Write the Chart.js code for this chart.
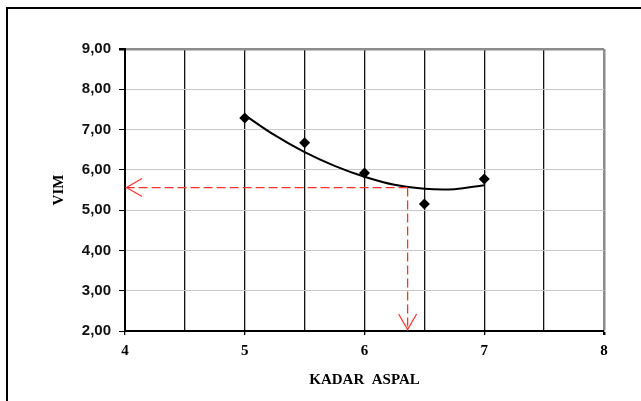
<!DOCTYPE html>
<html>
<head>
<meta charset="utf-8">
<script src="https://cdn.jsdelivr.net/npm/chart.js@4/dist/chart.umd.min.js"></script>
<style>
  html, body { margin: 0; padding: 0; background: #fff; overflow: hidden; }
  #wrap { position: relative; width: 641px; height: 401px; }
  #frame { position: absolute; left: 6px; top: 7px; width: 700px; height: 500px;
           border-left: 2px solid #000; border-top: 2px solid #000; pointer-events: none; }
  #chart { position: absolute; left: 0; top: 0; }
</style>
</head>
<body>
<div id="wrap">
  <canvas id="chart" width="641" height="401"></canvas>
  <div id="frame"></div>
</div>
<script>
// measured points (kadar aspal vs VIM)
const kadarAspal = [5, 5.5, 6, 6.5, 7];
const vimValues = [7.29, 6.67, 5.92, 5.15, 5.77];

// trend curve
const trendX = [5, 5.25, 5.5, 5.75, 6, 6.25, 6.5, 6.75, 7];
const trendY = [7.36, 6.86, 6.44, 6.10, 5.83, 5.63, 5.53, 5.52, 5.62];

// red guide: from curve to the axes
const guideX = [6.36];
const guideY = [5.56];

const xMin = 4, xMax = 8, yMin = 2, yMax = 9;
const guideRed = '#ff3030';

function toPoints(xs, ys) {
    return xs.map((x, i) => ({ x: x, y: ys[i] }));
}

// open arrowheads at the end of the guide lines
const arrowPlugin = {
    id: 'arrowHeads',
    afterDatasetsDraw(chart) {
        const { ctx, scales: { x, y } } = chart;
        const len = 17, half = 9;
        ctx.save();
        ctx.strokeStyle = guideRed;
        ctx.lineWidth = 1.2;
        ctx.setLineDash([]);
        // left arrow
        const lx = x.getPixelForValue(xMin), ly = y.getPixelForValue(guideY[0]);
        ctx.beginPath();
        ctx.moveTo(lx + len, ly - half);
        ctx.lineTo(lx + 1.5, ly);
        ctx.lineTo(lx + len, ly + half);
        ctx.stroke();
        // down arrow
        const dx = x.getPixelForValue(guideX[0]), dy = y.getPixelForValue(yMin);
        ctx.beginPath();
        ctx.moveTo(dx - half, dy - len);
        ctx.lineTo(dx, dy - 1.5);
        ctx.lineTo(dx + half, dy - len);
        ctx.stroke();
        ctx.restore();
    }
};

new Chart(document.getElementById('chart'), {
    type: 'scatter',
    data: {
        datasets: [
            {
                label: 'guide-h',
                data: [{ x: guideX[0], y: guideY[0] }, { x: xMin, y: guideY[0] }],
                showLine: true,
                borderColor: guideRed,
                borderWidth: 1.3,
                borderDash: [9, 4],
                pointRadius: 0
            },
            {
                label: 'guide-v',
                data: [{ x: guideX[0], y: guideY[0] }, { x: guideX[0], y: yMin }],
                showLine: true,
                borderColor: guideRed,
                borderWidth: 1.3,
                borderDash: [9, 4],
                pointRadius: 0
            },
            {
                label: 'trend',
                data: toPoints(trendX, trendY),
                showLine: true,
                borderColor: '#000',
                borderWidth: 2,
                tension: 0.4,
                pointRadius: 0
            },
            {
                label: 'VIM',
                data: toPoints(kadarAspal, vimValues),
                pointStyle: 'rectRot',
                pointRadius: 5.5,
                backgroundColor: '#000',
                borderColor: '#000',
                borderWidth: 0
            }
        ]
    },
    options: {
        responsive: false,
        animation: false,
        layout: { padding: { top: 49, right: 37, left: 0, bottom: 0 } },
        plugins: { legend: { display: false }, tooltip: { enabled: false } },
        scales: {
            x: {
                type: 'linear',
                min: xMin,
                max: xMax,
                afterFit: s => { s.height = 70; },
                ticks: {
                    stepSize: 0.5,
                    padding: 7,
                    color: '#000',
                    font: { family: 'Liberation Serif', size: 15, weight: 'bold' },
                    callback: v => Number.isInteger(v) ? String(v) : ''
                },
                grid: {
                    color: c => c.tick && c.tick.value === xMax ? '#8c8c8c' : '#111',
                    lineWidth: c => c.tick && c.tick.value === xMax ? 2.5 : 1.3,
                    tickColor: c => c.tick && Number.isInteger(c.tick.value) ? '#000' : 'rgba(0,0,0,0)',
                    tickLength: 4
                },
                border: { color: '#000', width: 2 },
                title: {
                    display: true,
                    text: 'KADAR  ASPAL',
                    color: '#000',
                    font: { family: 'Liberation Serif', size: 15, weight: 'bold' },
                    padding: { top: 0, bottom: 12 }
                }
            },
            y: {
                min: yMin,
                max: yMax,
                afterFit: s => { s.width = 125; },
                ticks: {
                    stepSize: 1,
                    padding: 8,
                    color: '#111',
                    font: { family: 'Liberation Sans', size: 15, weight: 'bold' },
                    callback: v => v.toFixed(2).replace('.', ',')
                },
                grid: {
                    color: c => c.tick && c.tick.value === yMax ? '#8c8c8c' : '#c8c8c8',
                    lineWidth: c => c.tick && c.tick.value === yMax ? 2.5 : 1,
                    tickColor: '#000',
                    tickLength: 6
                },
                border: { color: '#000', width: 2 },
                title: {
                    display: true,
                    text: 'VIM',
                    color: '#000',
                    font: { family: 'Liberation Serif', size: 15, weight: 'bold' },
                    padding: { top: 50, bottom: 0 }
                }
            }
        }
    },
    plugins: [arrowPlugin]
});
</script>
</body>
</html>
